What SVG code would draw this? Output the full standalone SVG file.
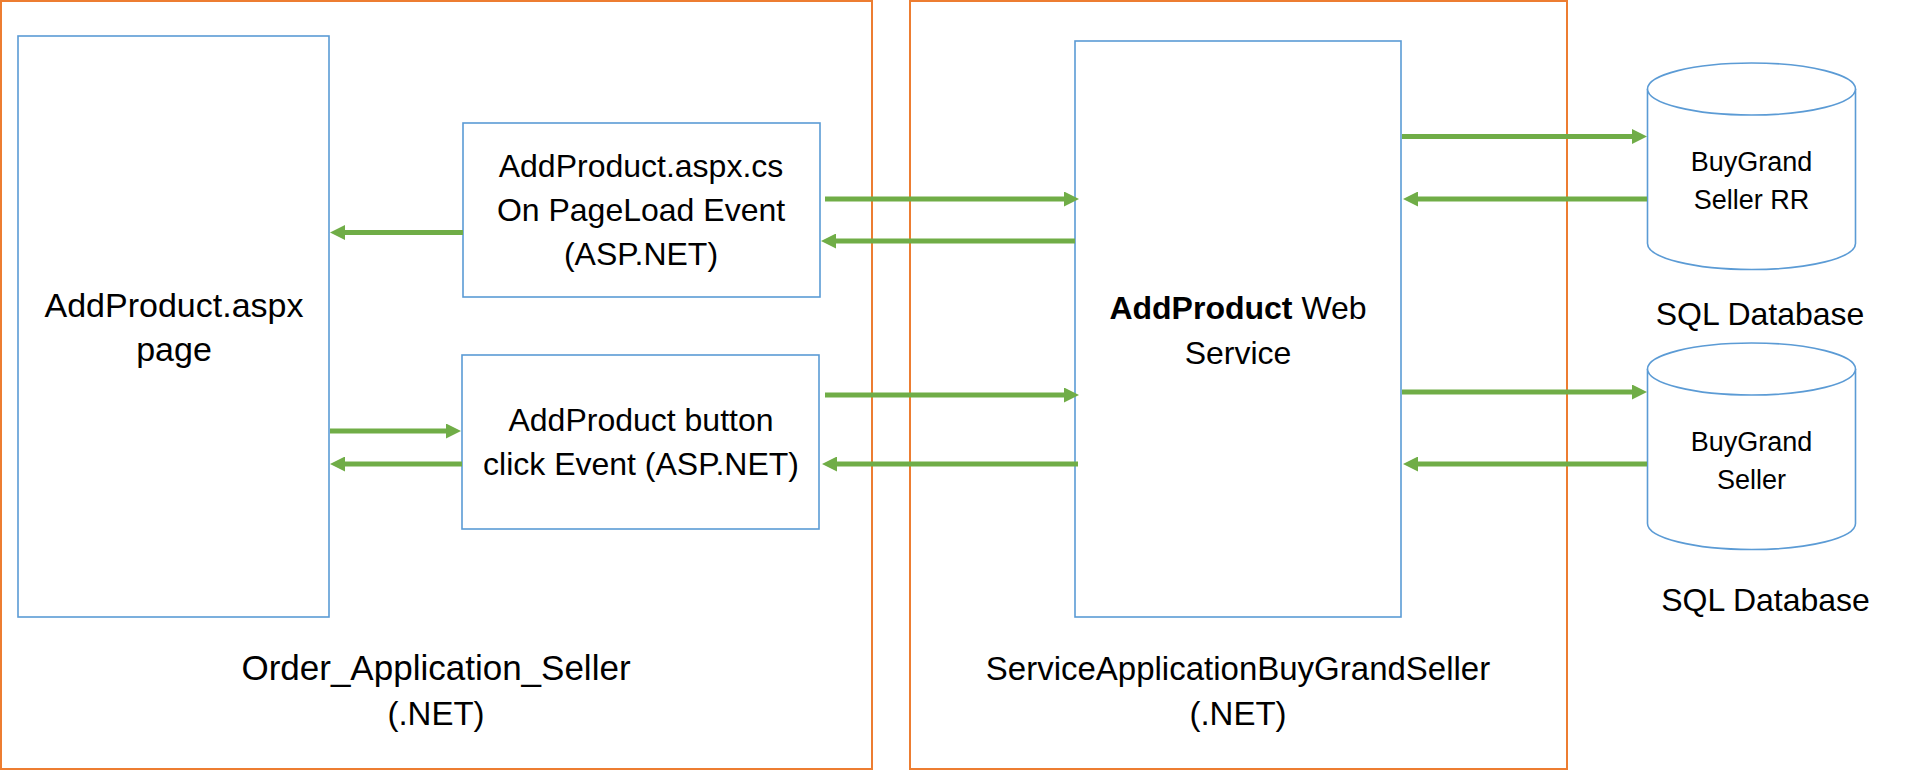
<svg xmlns="http://www.w3.org/2000/svg" width="1913" height="771" viewBox="0 0 1913 771">
<style>
.cont{fill:none;stroke:#ED7D31;stroke-width:2}
.node{fill:#fff;stroke:#5B9BD5;stroke-width:1.6}
.t{font-family:"Liberation Sans",Arial,sans-serif;font-size:32px;fill:#000;text-anchor:middle}
.tp{font-family:"Liberation Sans",Arial,sans-serif;font-size:34px;fill:#000;text-anchor:middle}
.tl{font-family:"Liberation Sans",Arial,sans-serif;font-size:33px;fill:#000;text-anchor:middle}
.to{font-family:"Liberation Sans",Arial,sans-serif;font-size:35px;fill:#000;text-anchor:middle}
.ts{font-family:"Liberation Sans",Arial,sans-serif;font-size:27px;fill:#000;text-anchor:middle}
.tq{font-family:"Liberation Sans",Arial,sans-serif;font-size:32px;fill:#000;text-anchor:middle}
.c{stroke:#70AD47;stroke-width:5;fill:none;marker-end:url(#ah)}
</style>
<defs>
<marker id="ah" markerUnits="userSpaceOnUse" markerWidth="15" markerHeight="15" refX="0" refY="7.5" orient="auto">
<path d="M0,0 L15,7.5 L0,15 Z" fill="#70AD47"/>
</marker>
</defs>
<rect width="1913" height="771" fill="#fff"/>
<g id="order-app">
<rect class="cont" x="1" y="1" width="871" height="768"/>
<text class="to" x="436" y="680">Order_Application_Seller</text>
<text class="tl" x="436" y="725">(.NET)</text>
</g>
<g id="service-app">
<rect class="cont" x="910" y="1" width="657" height="768"/>
<text class="tl" x="1238" y="680">ServiceApplicationBuyGrandSeller</text>
<text class="tl" x="1238" y="725">(.NET)</text>
</g>
<g id="page">
<rect class="node" x="18" y="36" width="311" height="581"/>
<text class="tp" x="174" y="317">AddProduct.aspx</text>
<text class="tp" x="174" y="361">page</text>
</g>
<g id="pageload">
<rect class="node" x="463" y="123" width="357" height="174"/>
<text class="t" x="641" y="177">AddProduct.aspx.cs</text>
<text class="t" x="641" y="221">On PageLoad Event</text>
<text class="t" x="641" y="265">(ASP.NET)</text>
</g>
<g id="button">
<rect class="node" x="462" y="355" width="357" height="174"/>
<text class="t" x="641" y="431">AddProduct button</text>
<text class="t" x="641" y="475">click Event (ASP.NET)</text>
</g>
<g id="webservice">
<rect class="node" x="1075" y="41" width="326" height="576"/>
<text class="t" x="1238" y="319"><tspan font-weight="bold">AddProduct</tspan> Web</text>
<text class="t" x="1238" y="364">Service</text>
</g>
<g id="db-rr">
<path class="node" d="M1647.5,89 L1647.5,243.5 A104,26 0 0 0 1855.5,243.5 L1855.5,89 A104,26 0 0 0 1647.5,89 Z"/>
<path class="node" d="M1647.5,89 A104,26 0 0 0 1855.5,89" fill="none"/>
<text class="ts" x="1751.5" y="171">BuyGrand</text>
<text class="ts" x="1751.5" y="209">Seller RR</text>
<text class="tq" x="1760" y="325">SQL Database</text>
</g>
<g id="db-seller">
<path class="node" d="M1647.5,369 L1647.5,523.5 A104,26 0 0 0 1855.5,523.5 L1855.5,369 A104,26 0 0 0 1647.5,369 Z"/>
<path class="node" d="M1647.5,369 A104,26 0 0 0 1855.5,369" fill="none"/>
<text class="ts" x="1751.5" y="451">BuyGrand</text>
<text class="ts" x="1751.5" y="489">Seller</text>
<text class="tq" x="1765.5" y="611">SQL Database</text>
</g>
<g id="connectors">
<line class="c" x1="463" y1="232.5" x2="345" y2="232.5"/>
<line class="c" x1="330" y1="431" x2="446" y2="431"/>
<line class="c" x1="462" y1="464" x2="345" y2="464"/>
<line class="c" x1="825" y1="199" x2="1064" y2="199"/>
<line class="c" x1="1075" y1="241" x2="836" y2="241"/>
<line class="c" x1="825" y1="395" x2="1064" y2="395"/>
<line class="c" x1="1078" y1="464" x2="837" y2="464"/>
<line class="c" x1="1402" y1="136.5" x2="1632" y2="136.5"/>
<line class="c" x1="1647" y1="199" x2="1418" y2="199"/>
<line class="c" x1="1402" y1="392" x2="1632" y2="392"/>
<line class="c" x1="1647" y1="464" x2="1418" y2="464"/>
</g>
</svg>
